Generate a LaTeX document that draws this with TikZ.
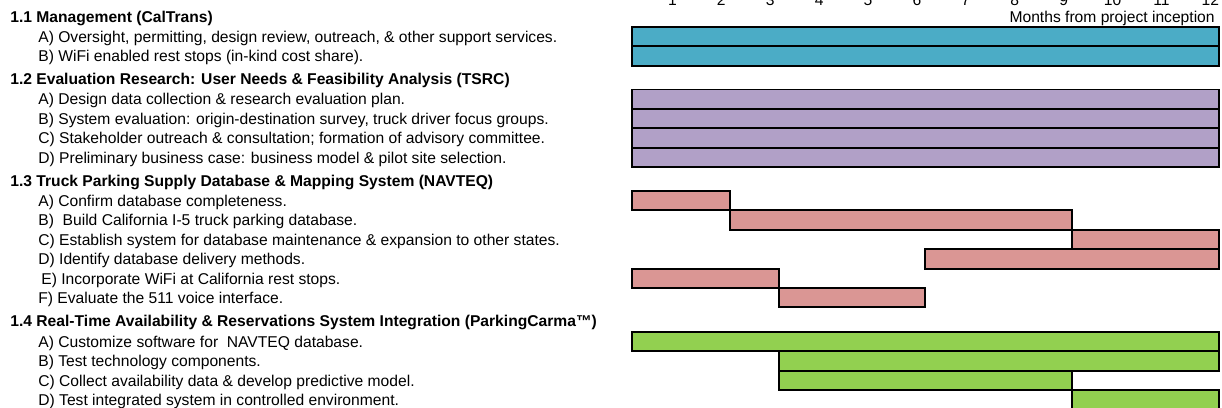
\documentclass[tikz,border=0pt]{standalone}
\usepackage{fontspec}
\setmainfont{Liberation Sans}
\definecolor{mgmt}{RGB}{75,172,198}
\definecolor{evalres}{RGB}{177,160,199}
\definecolor{navteq}{RGB}{218,150,148}
\definecolor{carma}{RGB}{146,208,80}
\tikzset{
	task/.style={anchor=west, inner sep=0pt, yshift=-1pt, font=\fontsize{8.9}{10}\selectfont},
	head/.style={task, font=\fontsize{8.9}{10}\selectfont\bfseries},
	bar/.style={draw=black, line width=1.1pt},
}
\begin{document}
\begin{tikzpicture}[x=0.02cm, y=-0.02cm]
	\useasboundingbox (0,0) rectangle (1222,408);

	\foreach \m in {1,...,12}{
	  \node[task, anchor=base] (m\m) at ({623.5+48.9*\m},4) {\m};
	}
	\node[task, anchor=base east] (axis) at (1215,20.5) {Months from project inception};

	\foreach \y/\a/\b/\c in {27/0/12/mgmt, 46.4/0/12/mgmt,
	  89.5/0/12/evalres, 108.9/0/12/evalres, 128.3/0/12/evalres, 147.7/0/12/evalres,
	  191/0/2/navteq, 210.4/2/9/navteq, 229.8/9/12/navteq, 249.2/6/12/navteq, 268.6/0/3/navteq, 288/3/6/navteq,
	  332/0/12/carma, 351.4/3/12/carma, 370.8/3/9/carma, 390.2/9/12/carma}{
	  \draw[bar, fill=\c] ({632+48.9*\a},\y) rectangle ({632+48.9*\b},\y+19.4);
	}

	\node[head] (h1) at (10,17) {1.1 Management (CalTrans)};
	\node[task] (t1a) at (38,36.7) {A) Oversight, permitting, design review, outreach, \& other support services.};
	\node[task] (t1b) at (38,56.1) {B) WiFi enabled rest stops (in-kind cost share).};

	\node[head] (h2) at (10,79) {1.2 Evaluation Research: User Needs \& Feasibility Analysis (TSRC)};
	\node[task] (t2a) at (38,99.2) {A) Design data collection \& research evaluation plan.};
	\node[task] (t2b) at (38,118.6) {B) System evaluation: origin-destination survey, truck driver focus groups.};
	\node[task] (t2c) at (38,138) {C) Stakeholder outreach \& consultation; formation of advisory committee.};
	\node[task] (t2d) at (38,157.4) {D) Preliminary business case: business model \& pilot site selection.};

	\node[head] (h3) at (10,181) {1.3 Truck Parking Supply Database \& Mapping System (NAVTEQ)};
	\node[task] (t3a) at (38,200.7) {A) Confirm database completeness.};
	\node[task] (t3b) at (38,220.1) {B)\ \ Build California I-5 truck parking database.};
	\node[task] (t3c) at (38,239.5) {C) Establish system for database maintenance \& expansion to other states.};
	\node[task] (t3d) at (38,258.9) {D) Identify database delivery methods.};
	\node[task] (t3e) at (41,278.3) {E) Incorporate WiFi at California rest stops.};
	\node[task] (t3f) at (38,297.7) {F) Evaluate the 511 voice interface.};

	\node[head] (h4) at (10,321) {1.4 Real-Time Availability \& Reservations System Integration (ParkingCarma™)};
	\node[task] (t4a) at (38,341.7) {A) Customize software for\ \ NAVTEQ database.};
	\node[task] (t4b) at (38,361.1) {B) Test technology components.};
	\node[task] (t4c) at (38,380.5) {C) Collect availability data \& develop predictive model.};
	\node[task] (t4d) at (38,399.9) {D) Test integrated system in controlled environment.};
\end{tikzpicture}
\end{document}
